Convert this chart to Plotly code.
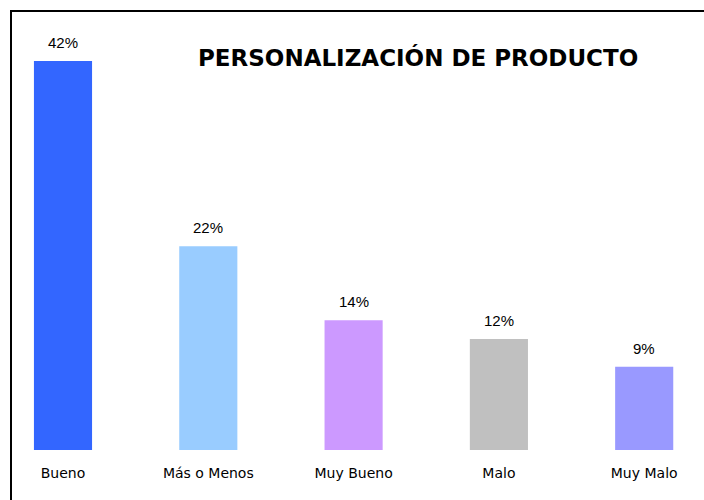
import plotly.graph_objects as go

categories = ["Bueno", "Más o Menos", "Muy Bueno", "Malo", "Muy Malo"]
values = [42, 22, 14, 12, 9]
bar_colors = ["#3366FF", "#99CCFF", "#CC99FF", "#C0C0C0", "#9999FF"]
title_text = "PERSONALIZACIÓN DE PRODUCTO"

fig = go.Figure(
    go.Bar(
        x=categories,
        y=values,
        marker=dict(color=bar_colors, line=dict(width=0)),
        width=0.4,
        hoverinfo="skip",
    )
)

# value labels above each bar
for cat, val in zip(categories, values):
    fig.add_annotation(
        x=cat, y=val, text=f"{val}%", showarrow=False,
        yanchor="bottom", yshift=8,
        font=dict(family="Liberation Sans", size=15, color="#000000"),
    )

fig.add_annotation(
    x=418 / 704, y=(450 - 57) / 450, xref="paper", yref="paper",
    text=f"<b>{title_text}</b>", showarrow=False,
    xanchor="center", yanchor="middle",
    font=dict(family="DejaVu Sans", size=23, color="#000000"),
)

# outer frame
fig.add_shape(
    type="rect", xref="paper", yref="paper",
    x0=11 / 704, x1=1.05, y0=-0.3, y1=(450 - 11) / 450,
    line=dict(color="#000000", width=2), fillcolor="rgba(0,0,0,0)",
    layer="above",
)

fig.update_layout(
    width=704, height=500,
    margin=dict(l=0, r=0, t=0, b=50),
    paper_bgcolor="#FFFFFF", plot_bgcolor="#FFFFFF",
    showlegend=False,
    xaxis=dict(
        range=[-63 / 145.3, (704 - 63) / 145.3],
        showgrid=False, zeroline=False, showline=False, ticks="",
        ticklabelstandoff=13,
        tickfont=dict(family="DejaVu Sans", size=14, color="#000000"),
        fixedrange=True,
    ),
    yaxis=dict(
        range=[0, 450 / 9.26],
        visible=False, fixedrange=True,
    ),
)

fig.write_html("out.html")
